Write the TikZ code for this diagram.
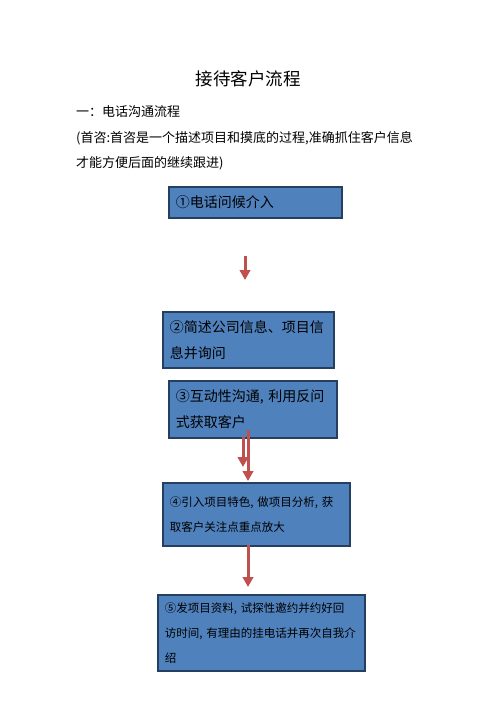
\documentclass[tikz,border=0pt]{standalone}
\usepackage{fontspec}
\setmainfont{Noto Sans CJK SC}
\usepackage{tikz}
\usetikzlibrary{arrows.meta,positioning}
\usepackage{xcolor}
\definecolor{boxblue}{HTML}{4F81BD}
\definecolor{boxedge}{HTML}{243F60}
\definecolor{arrowred}{HTML}{C0504D}

\begin{document}
\begin{tikzpicture}[
    x=1pt, y=-1pt,
    box/.style={draw=boxedge, line width=1.6pt, fill=boxblue, anchor=north west, align=left, inner xsep=7pt, text=black},
    bigtext/.style={font=\fontsize{14}{26}\selectfont},
    smalltext/.style={font=\fontsize{11.5}{25}\selectfont},
    arrow/.style={-{Triangle[length=10pt,width=10.5pt]}, line width=3pt, draw=arrowred}
]
\useasboundingbox[fill=white] (0,0) rectangle (496,702);

\node[font=\fontsize{17.5}{20}\selectfont] (title) at (248,79) {接待客户流程};
\node[anchor=west, inner sep=0pt, font=\fontsize{13}{25}\selectfont] (sect) at (76,112) {一：电话沟通流程};
\node[anchor=west, inner sep=0pt, align=left, font=\fontsize{13}{25}\selectfont] (note) at (76,150.5)
    {(首咨:首咨是一个描述项目和摸底的过程,准确抓住客户信息\\才能方便后面的继续跟进)};

\node[box, bigtext, minimum width=173pt, minimum height=31pt, text width=159pt] (call) at (168,186)
    {①电话问候介入};
\node[box, bigtext, minimum width=171pt, minimum height=56pt, text width=157pt] (intro) at (162,311)
    {②简述公司信息、项目信\\息并询问};
\node[box, bigtext, minimum width=168pt, minimum height=57pt, text width=154pt] (talk) at (168,380)
    {③互动性沟通, 利用反问\\式获取客户};
\node[box, smalltext, minimum width=187pt, minimum height=63pt, text width=173pt] (feature) at (162,482)
    {④引入项目特色, 做项目分析, 获\\取客户关注点重点放大};
\node[box, smalltext, minimum width=207pt, minimum height=76pt, text width=193pt] (invite) at (157,594)
    {⑤发项目资料, 试探性邀约并约好回\\访时间, 有理由的挂电话并再次自我介\\绍};

% arrows
\coordinate (a1s) at (245,256);
\coordinate (a1e) at (245,280);
\coordinate (a2s) at (248,430);
\coordinate (a2e) at (248,481);
\coordinate (a3s) at (243,437);
\coordinate (a3e) at (243,467);
\coordinate (a4s) at (248,545);
\coordinate (a4e) at (248,587);

\draw[arrow] (a1s) -- (a1e);
\draw[arrow] (a2s) -- (a2e);
\draw[arrow] (a3s) -- (a3e);
\draw[arrow] (a4s) -- (a4e);
\end{tikzpicture}
\end{document}
